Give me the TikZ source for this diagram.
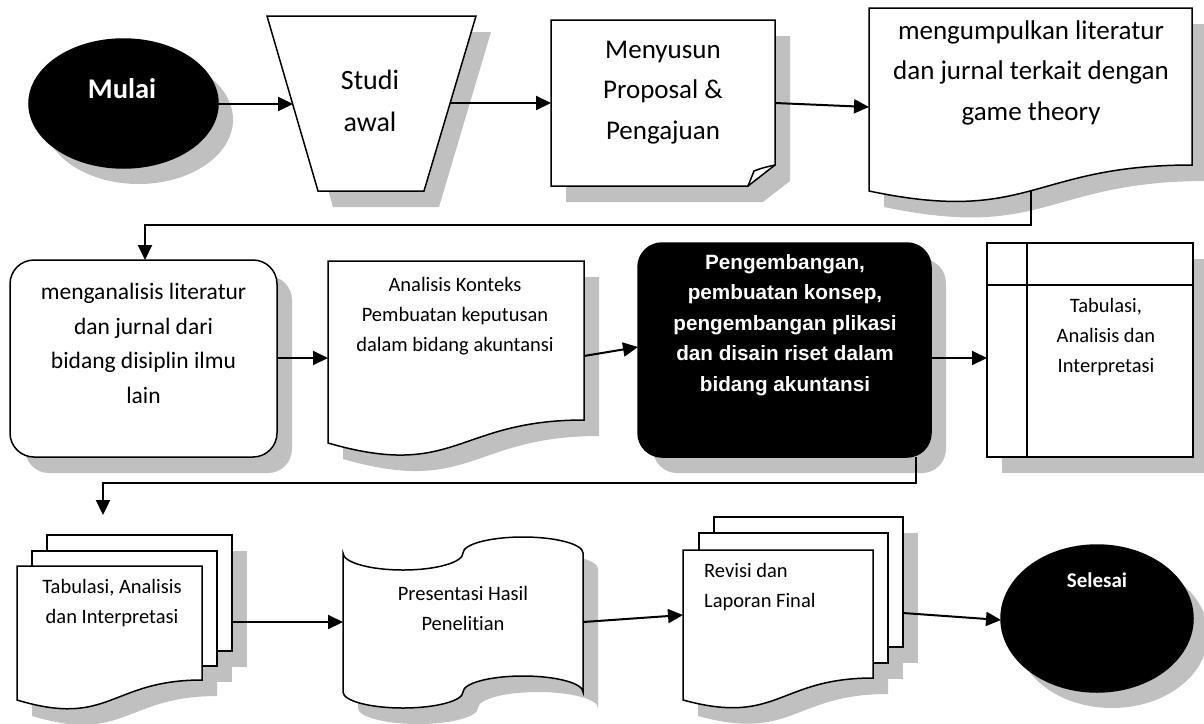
\documentclass[tikz,border=0pt]{standalone}
\usepackage{fontspec}
\setmainfont{Carlito}[Ligatures={TeX,NoCommon}]
\newfontfamily\arialfont{Liberation Sans}
\usetikzlibrary{arrows.meta}
\definecolor{shadowgray}{HTML}{C0C0C0}
\newcommand\shpTrap{(267,16) -- (476,16) -- (424,191) -- (318,191) -- cycle}
\newcommand\shpNote{(551,20) -- (775,20) -- (775,165) -- (748,186) -- (551,186) -- cycle}
\newcommand\shpDocA{(869,8) -- (1192,8) -- (1192,165) .. controls (1031,165) and (1031,225) .. (869,191) -- cycle}
\newcommand\shpDocB{(328,261) -- (584,261) -- (584,420) .. controls (456,420) and (456,480) .. (328,443) -- cycle}
\newcommand\shpStackFront{(17,566) -- (202,566) -- (202,680) .. controls (110,680) and (110,728) .. (17,700) -- cycle}
\newcommand\shpRevFront{(683,550) -- (873,550) -- (873,678) .. controls (778,678) and (778,726) .. (683,700) -- cycle}
\newcommand\shpTape{(343,553) .. controls (343,562.4) and (369.9,570) .. (403,570) .. controls (436.1,570) and (463,562.4) .. (463,553)
  .. controls (463,544.2) and (489.9,537) .. (523,537) .. controls (556.1,537) and (583,544.2) .. (583,553)
  -- (583,692) .. controls (583,683.2) and (556.1,676) .. (523,676) .. controls (489.9,676) and (463,683.2) .. (463,692)
  .. controls (463,700.8) and (436.1,708) .. (403,708) .. controls (369.9,708) and (343,700.8) .. (343,692) -- cycle}
\begin{document}
\begin{tikzpicture}[x=1pt,y=-1pt,
  outline/.style={draw=black, line width=1.5pt, fill=white, line join=miter},
  shade/.style={fill=shadowgray, draw=none, shift={(15,16)}},
  conn/.style={draw=black, line width=2pt, -{Triangle[length=15pt,width=14pt]}},
  txt/.style={inner sep=0pt, align=center, text=black},
  bigtxt/.style={txt, font=\fontsize{27}{40.5}\selectfont},
  midtxt/.style={txt, font=\fontsize{23.5}{34.5}\selectfont},
  smalltxt/.style={txt, font=\fontsize{20.5}{30}\selectfont}]
\useasboundingbox (0,0) rectangle (1204,723);
% ---------- shadows ----------
\fill[shade] (123.5,103.5) ellipse [x radius=94.5pt, y radius=64.5pt];
\fill[shade] \shpTrap;
\fill[shade] \shpNote;
\fill[shade] \shpDocA;
\fill[shade, rounded corners=24pt] (10,260) rectangle (277,457);
\fill[shade] \shpDocB;
\fill[shade, rounded corners=24pt] (638,243) rectangle (931,457);
\fill[shade] (987,243) rectangle (1193,457);
\fill[shade] (47,535) rectangle (232,651);
\fill[shade] (32,551) rectangle (217,666);
\fill[shade] \shpStackFront;
\fill[shade] \shpTape;
\fill[shade] (714,517) rectangle (903,647);
\fill[shade] (699,533) rectangle (888,663);
\fill[shade] \shpRevFront;
\fill[shade] (1097,618.5) ellipse [x radius=96pt, y radius=73.5pt];
% ---------- shapes ----------
\draw[outline, fill=black] (123.5,103.5) ellipse [x radius=94.5pt, y radius=64.5pt];
\draw[outline] \shpTrap;
\draw[outline] \shpNote;
\draw[line width=1.5pt] (748,186) -- (754,171) .. controls (762,168) .. (775,165);
\draw[outline] \shpDocA;
\draw[outline, rounded corners=24pt] (10,260) rectangle (277,457);
\draw[outline] \shpDocB;
\draw[outline, fill=black, rounded corners=24pt] (638,243) rectangle (931,457);
\draw[outline] (987,243) rectangle (1193,457);
\draw[line width=1.5pt] (1027,243) -- (1027,457);
\draw[line width=1.5pt] (987,285) -- (1193,285);
\draw[outline] (47,535) rectangle (232,651);
\draw[outline] (32,551) rectangle (217,666);
\draw[outline] \shpStackFront;
\draw[outline] \shpTape;
\draw[outline] (714,517) rectangle (903,647);
\draw[outline] (699,533) rectangle (888,663);
\draw[outline] \shpRevFront;
\draw[outline, fill=black] (1097,618.5) ellipse [x radius=96pt, y radius=73.5pt];
% ---------- texts ----------
\node[txt, text=white, font=\fontsize{28.5}{34}\selectfont\bfseries] (mulai) at (122,89) {Mulai};
\node[txt, font=\fontsize{28}{42}\selectfont] (studi) at (370,101) {Studi\\awal};
\node[bigtxt] (menyusun) at (663,92.5) {Menyusun\\Proposal \&\\Pengajuan};
\node[bigtxt] (kumpul) at (1031,72.5) {mengumpulkan literatur\\dan jurnal terkait dengan\\game theory};
\node[midtxt] (analisa) at (143.5,343.5) {menganalisis literatur\\dan jurnal dari\\bidang disiplin ilmu\\lain};
\node[smalltxt] (konteks) at (455,316) {Analisis Konteks\\Pembuatan keputusan\\dalam bidang akuntansi};
\node[txt, text=white, font=\fontsize{20.7}{30.5}\selectfont\arialfont\bfseries] (kembang) at (785,325) {Pengembangan,\\pembuatan konsep,\\pengembangan plikasi\\dan disain riset dalam\\bidang akuntansi};
\node[smalltxt] (tabA) at (1106,337) {Tabulasi,\\Analisis dan\\Interpretasi};
\node[smalltxt] (tabB) at (112,603) {Tabulasi, Analisis\\dan Interpretasi};
\node[smalltxt] (presentasi) at (463,608) {Presentasi Hasil\\Penelitian};
\node[smalltxt, align=left, anchor=west] (revisi) at (704,587) {Revisi dan\\Laporan Final};
\node[txt, text=white, font=\fontsize{21}{25}\selectfont\bfseries] (selesai) at (1097,580) {Selesai};
% ---------- connector ends ----------
\coordinate (mulaiE) at (218,104);
\coordinate (studiW) at (293,104);
\coordinate (studiE) at (450,103);
\coordinate (noteW) at (551,103);
\coordinate (noteE) at (775,103);
\coordinate (docAW) at (869,107);
\coordinate (docAS) at (1031,191);
\coordinate (rrN) at (145,260);
\coordinate (rrE) at (277,358);
\coordinate (docBW) at (328,358);
\coordinate (docBE) at (584,356);
\coordinate (blkW) at (638,347);
\coordinate (blkE) at (931,358);
\coordinate (blkS) at (916,457);
\coordinate (storW) at (987,358);
\coordinate (stackN) at (103,515);
\coordinate (stackE) at (232,622);
\coordinate (tapeW) at (343,622);
\coordinate (tapeE) at (583,622);
\coordinate (revW) at (683,615);
\coordinate (revE) at (903,613);
\coordinate (endW) at (1001,620);
% ---------- connectors ----------
\draw[conn] (mulaiE) -- (studiW);
\draw[conn] (studiE) -- (noteW);
\draw[conn] (noteE) -- (docAW);
\draw[conn] (docAS) -- ++(0,34) -| (rrN);
\draw[conn] (rrE) -- (docBW);
\draw[conn] (docBE) -- (blkW);
\draw[conn] (blkE) -- (storW);
\draw[conn] (blkS) -- ++(0,26) -| (stackN);
\draw[conn] (stackE) -- (tapeW);
\draw[conn] (tapeE) -- (revW);
\draw[conn] (revE) -- (endW);
\end{tikzpicture}
\end{document}
